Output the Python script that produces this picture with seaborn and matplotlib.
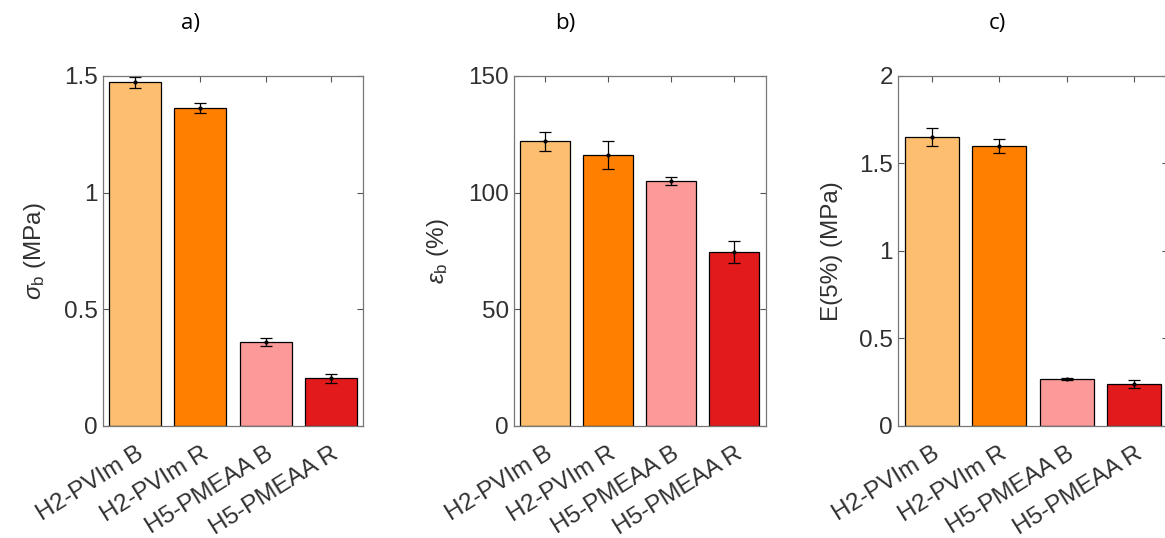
import numpy as np
import matplotlib
matplotlib.use("Agg")
import matplotlib.pyplot as plt
import seaborn as sns

# sample names and bar colours
samples = ["H2-PVIm B", "H2-PVIm R", "H5-PMEAA B", "H5-PMEAA R"]
colors = ["#FDBF6F", "#FF7F00", "#FB9A99", "#E31A1C"]

# a) stress at break (MPa)
sigma_b = [1.473, 1.364, 0.359, 0.204]
sigma_err = [0.024, 0.021, 0.016, 0.019]

# b) strain at break (%)
eps_b = [122, 116, 105, 74.7]
eps_err = [4, 6, 1.9, 4.7]

# c) modulus at 5% (MPa)
e5 = [1.651, 1.600, 0.267, 0.238]
e5_err = [0.05, 0.041, 0.007, 0.023]

sns.set_style("ticks")
plt.rcParams["font.family"] = ["Liberation Sans", "DejaVu Sans"]
plt.rcParams["mathtext.fontset"] = "custom"
plt.rcParams["mathtext.rm"] = "Liberation Sans"
plt.rcParams["mathtext.it"] = "Liberation Sans:italic"

fig = plt.figure(figsize=(11.65, 5.38), dpi=100)

panels = [
    # values, errors, ylabel, yticks, ylim, axes rect, title, title x
    (sigma_b, sigma_err, r"$\sigma_{\rm b}$ (MPa)", [0, 0.5, 1, 1.5], 1.5,
     [0.0884, 0.2082, 0.2232, 0.6506], "a)", 190),
    (eps_b, eps_err, r"$\epsilon_{\rm b}$ (%)", [0, 50, 100, 150], 150,
     [0.4408, 0.2082, 0.2163, 0.6506], "b)", 565),
    (e5, e5_err, "E(5%) (MPa)", [0, 0.5, 1, 1.5, 2], 2,
     [0.7708, 0.2082, 0.2318, 0.6506], "c)", 997),
]

fs = 17.5
for vals, errs, ylab, yt, ymax, rect, ttl, tx in panels:
    ax = fig.add_axes(rect)
    sns.barplot(x=samples, y=vals, hue=samples, palette=colors, legend=False,
                saturation=1, edgecolor="black", linewidth=0.9, width=0.8, ax=ax)
    ax.errorbar(np.arange(len(samples)), vals, yerr=errs, fmt=".", color="black",
                ms=4, elinewidth=0.9, capsize=4, capthick=0.9)
    ax.set_xlim(-0.5, 3.5)
    ax.set_ylim(0, ymax)
    ax.set_yticks(yt)
    ax.set_yticklabels(["{:g}".format(t) for t in yt])
    ax.set_xticks(range(len(samples)))
    ax.set_xticklabels(samples, rotation=32, ha="right", va="top",
                       rotation_mode="anchor")
    ax.set_ylabel(ylab, fontsize=fs, color="#303030", labelpad=12)
    ax.set_xlabel("")
    ax.tick_params(direction="in", top=True, right=True, length=4,
                   labelsize=fs, colors="#555555", labelcolor="#303030", width=0.8)
    ax.tick_params(axis="x", pad=12)
    for s in ax.spines.values():
        s.set_visible(True)
        s.set_color("#777777")
        s.set_linewidth(0.9)
    fig.text(tx / 1165, 1 - 23 / 538, ttl, ha="center", va="center",
             fontsize=16, family=["Open Sans", "DejaVu Sans"], color="black")

fig.savefig("out.png", dpi=100)
